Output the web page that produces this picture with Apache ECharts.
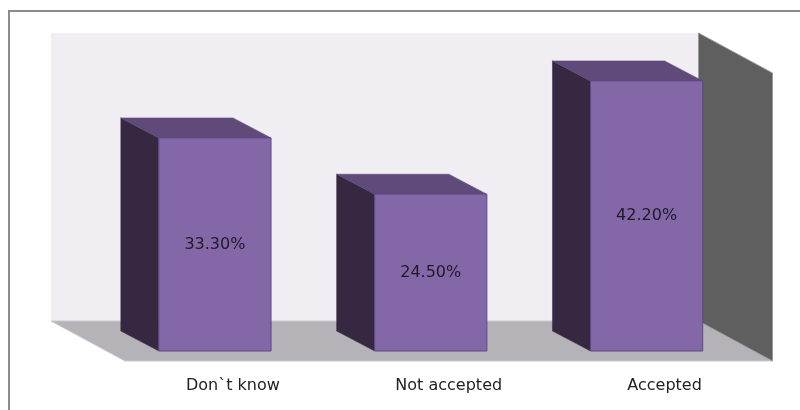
<!DOCTYPE html>
<html>
<head>
<meta charset="utf-8">
<script src="https://cdn.jsdelivr.net/npm/echarts@6/dist/echarts.min.js"></script>
<style>html,body{margin:0;padding:0;background:#fff;}#c{width:800px;height:410px;}</style>
</head>
<body>
<div id="c"></div>
<script>
const categories = ['Don`t know', 'Not accepted', 'Accepted'];
const values = [33.3, 24.5, 42.2];
const yMin = 0;
const yMax = 45;

// 3D styling offsets (pixels)
const BAR_DX = -38, BAR_DY = -20;     // bar back face relative to front face
const WALL_DX = -56, WALL_DY = -30;   // back wall plane relative to bar front plane
const FLOOR_DX = 18, FLOOR_DY = 10;   // floor front edge relative to bar front plane
const FONT = 'DejaVu Sans';

const chart = echarts.init(document.getElementById('c'), null, {renderer: 'canvas'});

const option = {
  animation: false,
  backgroundColor: '#ffffff',
  graphic: [{
    type: 'rect', z: 0,
    shape: {x: 9, y: 11, width: 900, height: 600},
    style: {fill: null, stroke: '#8c8c8c', lineWidth: 2}
  }],
  grid: {left: 107, right: 45.5, top: 63, bottom: 59},
  xAxis: {
    type: 'category',
    data: categories,
    axisLine: {show: false},
    axisTick: {show: false},
    splitLine: {show: false},
    axisLabel: {
      margin: 27,
      padding: [0, 0, 0, 36],
      fontFamily: FONT,
      fontSize: 16,
      color: '#222222'
    }
  },
  yAxis: {
    type: 'value', min: yMin, max: yMax,
    show: false,
    splitLine: {show: false}
  },
  series: [
    {
      type: 'custom',
      name: 'frame',
      z: 1,
      silent: true,
      data: [[0, yMax]],
      renderItem: function (params, api) {
        const cs = params.coordSys;
        const L = cs.x, R = cs.x + cs.width, T = cs.y, B = cs.y + cs.height;
        return {
          type: 'group',
          children: [
            {
              type: 'rect',
              shape: {x: L + WALL_DX, y: T + WALL_DY, width: cs.width, height: cs.height},
              style: {fill: '#f0eef3'}
            },
            {
              type: 'polygon',
              shape: {points: [
                [L + WALL_DX, B + WALL_DY], [R + WALL_DX, B + WALL_DY],
                [R + FLOOR_DX, B + FLOOR_DY], [L + FLOOR_DX, B + FLOOR_DY]
              ]},
              style: {fill: '#b5b3b8', stroke: '#c9c8cb', lineWidth: 1}
            },
            {
              type: 'polygon',
              shape: {points: [
                [R + WALL_DX, T + WALL_DY], [R + FLOOR_DX, T + FLOOR_DY],
                [R + FLOOR_DX, B + FLOOR_DY], [R + WALL_DX, B + WALL_DY]
              ]},
              style: {fill: '#5f5f5f', stroke: '#9a9a9a', lineWidth: 1}
            }
          ]
        };
      }
    },
    {
      type: 'custom',
      name: 'bars',
      z: 2,
      data: values.map((v, i) => [i, v]),
      encode: {x: 0, y: 1},
      renderItem: function (params, api) {
        const base = api.coord([api.value(0), 0]);
        const top = api.coord([api.value(0), api.value(1)]);
        const bw = api.size([1, 0])[0] * 0.52;
        const x0 = base[0] - bw / 2, x1 = base[0] + bw / 2;
        const yT = top[1], yB = base[1];
        return {
          type: 'group',
          children: [
            {
              type: 'polygon',
              shape: {points: [[x0, yT], [x0 + BAR_DX, yT + BAR_DY], [x0 + BAR_DX, yB + BAR_DY], [x0, yB]]},
              style: {fill: '#352840', stroke: '#3a2c47', lineWidth: 0.5}
            },
            {
              type: 'polygon',
              shape: {points: [[x0, yT], [x0 + BAR_DX, yT + BAR_DY], [x1 + BAR_DX, yT + BAR_DY], [x1, yT]]},
              style: {fill: '#5f4a7a', stroke: '#5a4675', lineWidth: 0.5}
            },
            {
              type: 'rect',
              shape: {x: x0, y: yT, width: bw, height: yB - yT},
              style: {fill: '#8467a6', stroke: '#5e4a80', lineWidth: 1},
              textContent: {
                style: {
                  text: api.value(1).toFixed(2) + '%',
                  fontFamily: FONT,
                  fontSize: 16,
                  fill: '#1e1a28'
                }
              },
              textConfig: {position: 'inside'}
            }
          ]
        };
      }
    }
  ]
};

chart.setOption(option);
</script>
</body>
</html>
